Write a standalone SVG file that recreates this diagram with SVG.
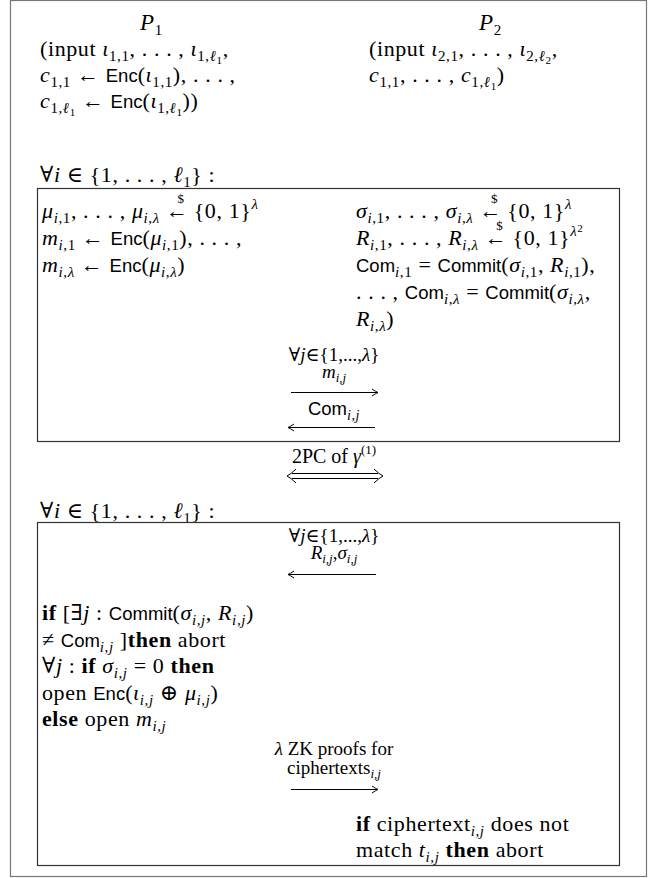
<svg xmlns="http://www.w3.org/2000/svg" width="655" height="878" viewBox="0 0 655 878">
<style>
.m{font-family:"Liberation Serif","DejaVu Serif",serif;font-size:22px;fill:#000;letter-spacing:0.6px}
.it{font-style:italic}
.sf{font-family:"Liberation Sans","DejaVu Sans",sans-serif;font-size:18.5px;letter-spacing:0px}
.b{font-weight:bold}
.sb{font-size:15px}
.ss{font-size:11px}
.sm{font-size:19px;letter-spacing:0px}
.tn{font-size:13px}
.box{fill:none;stroke:#333;stroke-width:1.2}
.outer{fill:none;stroke:#777;stroke-width:1.2}
.ar{fill:none;stroke:#000;stroke-width:1}
</style>
<defs>
<marker id="ah" markerUnits="userSpaceOnUse" markerWidth="12" markerHeight="12" viewBox="-8 -6 10 12" refX="0" refY="0" orient="auto">
<path d="M-6,-3.5 Q-2,-0.8 0,0 Q-2,0.8 -6,3.5" fill="none" stroke="#000" stroke-width="1"/>
</marker>
</defs>
<rect id="outer" class="outer" x="10.5" y="0.5" width="636" height="876"/>
<g id="p1">
<text x="140" y="30" class="m" style="font-size:23px"><tspan class="it">P</tspan><tspan class="sb" dy="5">1</tspan></text>
<text x="40" y="56" class="m">(input <tspan class="it">ι</tspan><tspan class="sb" dy="5">1,1</tspan><tspan dy="-5">, . . . , </tspan><tspan class="it">ι</tspan><tspan class="sb" dy="5">1,</tspan><tspan class="sb it">ℓ</tspan><tspan class="ss" dy="3">1</tspan><tspan dy="-8">,</tspan></text>
<text x="40" y="82" class="m"><tspan class="it">c</tspan><tspan class="sb" dy="5">1,1</tspan><tspan dy="-5"> ← </tspan><tspan class="sf">Enc</tspan>(<tspan class="it">ι</tspan><tspan class="sb" dy="5">1,1</tspan><tspan dy="-5">), . . . ,</tspan></text>
<text x="40" y="108" class="m"><tspan class="it">c</tspan><tspan class="sb" dy="5">1,</tspan><tspan class="sb it">ℓ</tspan><tspan class="ss" dy="3">1</tspan><tspan dy="-8"> ← </tspan><tspan class="sf">Enc</tspan>(<tspan class="it">ι</tspan><tspan class="sb" dy="5">1,</tspan><tspan class="sb it">ℓ</tspan><tspan class="ss" dy="3">1</tspan><tspan dy="-8">))</tspan></text>
</g>
<g id="p2">
<text x="479" y="30" class="m" style="font-size:23px"><tspan class="it">P</tspan><tspan class="sb" dy="5">2</tspan></text>
<text x="369" y="56" class="m">(input <tspan class="it">ι</tspan><tspan class="sb" dy="5">2,1</tspan><tspan dy="-5">, . . . , </tspan><tspan class="it">ι</tspan><tspan class="sb" dy="5">2,</tspan><tspan class="sb it">ℓ</tspan><tspan class="ss" dy="3">2</tspan><tspan dy="-8">,</tspan></text>
<text x="369" y="82" class="m"><tspan class="it">c</tspan><tspan class="sb" dy="5">1,1</tspan><tspan dy="-5">, . . . , </tspan><tspan class="it">c</tspan><tspan class="sb" dy="5">1,</tspan><tspan class="sb it">ℓ</tspan><tspan class="ss" dy="3">1</tspan><tspan dy="-8">)</tspan></text>
</g>
<g id="loop1">
<text x="40" y="182" class="m">∀<tspan class="it">i</tspan> ∈ {1, . . . , <tspan class="it">ℓ</tspan><tspan class="sb" dy="5">1</tspan><tspan dy="-5">} :</tspan></text>
<rect class="box" x="37.5" y="188.5" width="582" height="253"/>
<text x="42" y="218" class="m"><tspan class="it">μ</tspan><tspan class="sb it" dy="5">i</tspan><tspan class="sb">,1</tspan><tspan dy="-5">, . . . , </tspan><tspan class="it">μ</tspan><tspan class="sb it" dy="5">i</tspan><tspan class="sb">,</tspan><tspan class="sb it">λ</tspan><tspan dy="-5"> ←</tspan><tspan class="tn" dx="-11" dy="-15">$</tspan><tspan dy="15" dx="3"> {0, 1}</tspan><tspan class="sb it" dy="-9">λ</tspan></text>
<text x="42" y="245" class="m"><tspan class="it">m</tspan><tspan class="sb it" dy="5">i</tspan><tspan class="sb">,1</tspan><tspan dy="-5"> ← </tspan><tspan class="sf">Enc</tspan>(<tspan class="it">μ</tspan><tspan class="sb it" dy="5">i</tspan><tspan class="sb">,1</tspan><tspan dy="-5">), . . . ,</tspan></text>
<text x="42" y="272" class="m"><tspan class="it">m</tspan><tspan class="sb it" dy="5">i</tspan><tspan class="sb">,</tspan><tspan class="sb it">λ</tspan><tspan dy="-5"> ← </tspan><tspan class="sf">Enc</tspan>(<tspan class="it">μ</tspan><tspan class="sb it" dy="5">i</tspan><tspan class="sb">,</tspan><tspan class="sb it">λ</tspan><tspan dy="-5">)</tspan></text>
<text x="356" y="218" class="m"><tspan class="it">σ</tspan><tspan class="sb it" dy="5">i</tspan><tspan class="sb">,1</tspan><tspan dy="-5">, . . . , </tspan><tspan class="it">σ</tspan><tspan class="sb it" dy="5">i</tspan><tspan class="sb">,</tspan><tspan class="sb it">λ</tspan><tspan dy="-5"> ←</tspan><tspan class="tn" dx="-11" dy="-15">$</tspan><tspan dy="15" dx="3"> {0, 1}</tspan><tspan class="sb it" dy="-9">λ</tspan></text>
<text x="356" y="245" class="m"><tspan class="it">R</tspan><tspan class="sb it" dy="5">i</tspan><tspan class="sb">,1</tspan><tspan dy="-5">, . . . , </tspan><tspan class="it">R</tspan><tspan class="sb it" dy="5">i</tspan><tspan class="sb">,</tspan><tspan class="sb it">λ</tspan><tspan dy="-5"> ←</tspan><tspan class="tn" dx="-11" dy="-15">$</tspan><tspan dy="15" dx="3"> {0, 1}</tspan><tspan class="sb it" dy="-9">λ</tspan><tspan class="ss" dy="-4">2</tspan></text>
<text x="356" y="272" class="m"><tspan class="sf">Com</tspan><tspan class="sb it" dy="5">i</tspan><tspan class="sb">,1</tspan><tspan dy="-5"> = </tspan><tspan class="sf">Commit</tspan>(<tspan class="it">σ</tspan><tspan class="sb it" dy="5">i</tspan><tspan class="sb">,1</tspan><tspan dy="-5">, </tspan><tspan class="it">R</tspan><tspan class="sb it" dy="5">i</tspan><tspan class="sb">,1</tspan><tspan dy="-5">),</tspan></text>
<text x="356" y="299" class="m">. . . , <tspan class="sf">Com</tspan><tspan class="sb it" dy="5">i</tspan><tspan class="sb">,</tspan><tspan class="sb it">λ</tspan><tspan dy="-5"> = </tspan><tspan class="sf">Commit</tspan>(<tspan class="it">σ</tspan><tspan class="sb it" dy="5">i</tspan><tspan class="sb">,</tspan><tspan class="sb it">λ</tspan><tspan dy="-5">,</tspan></text>
<text x="356" y="326" class="m"><tspan class="it">R</tspan><tspan class="sb it" dy="5">i</tspan><tspan class="sb">,</tspan><tspan class="sb it">λ</tspan><tspan dy="-5">)</tspan></text>
<text x="334" y="361" class="m sm" text-anchor="middle">∀<tspan class="it">j</tspan>∈{1,...,<tspan class="it">λ</tspan>}</text>
<text x="334" y="378" class="m sm" text-anchor="middle"><tspan class="it">m</tspan><tspan class="tn it" dy="4">i,j</tspan></text>
<text x="334" y="415" class="m" text-anchor="middle" style="font-size:20px"><tspan class="sf" style="font-size:18.5px">Com</tspan><tspan class="sb it" dy="5" style="font-size:14px">i,j</tspan></text>
</g>
<g id="loop2">
<text x="40" y="518" class="m">∀<tspan class="it">i</tspan> ∈ {1, . . . , <tspan class="it">ℓ</tspan><tspan class="sb" dy="5">1</tspan><tspan dy="-5">} :</tspan></text>
<rect class="box" x="37.5" y="522.5" width="582" height="343"/>
<text x="334" y="542" class="m sm" text-anchor="middle">∀<tspan class="it">j</tspan>∈{1,...,<tspan class="it">λ</tspan>}</text>
<text x="334" y="559" class="m sm" text-anchor="middle"><tspan class="it">R</tspan><tspan class="tn it" dy="4">i,j</tspan><tspan dy="-4">,</tspan><tspan class="it">σ</tspan><tspan class="tn it" dy="4">i,j</tspan></text>
<text x="42" y="620" class="m"><tspan class="b">if</tspan> [∃<tspan class="it">j</tspan> : <tspan class="sf">Commit</tspan>(<tspan class="it">σ</tspan><tspan class="sb it" dy="5">i,j</tspan><tspan dy="-5">, </tspan><tspan class="it">R</tspan><tspan class="sb it" dy="5">i,j</tspan><tspan dy="-5">)</tspan></text>
<text x="42" y="647" class="m">≠ <tspan class="sf">Com</tspan><tspan class="sb it" dy="5">i,j</tspan><tspan dy="-5"> ]</tspan><tspan class="b">then</tspan> abort</text>
<text x="42" y="673" class="m">∀<tspan class="it">j</tspan> : <tspan class="b">if</tspan> <tspan class="it">σ</tspan><tspan class="sb it" dy="5">i,j</tspan><tspan dy="-5"> = 0 </tspan><tspan class="b">then</tspan></text>
<text x="42" y="700" class="m">open <tspan class="sf">Enc</tspan>(<tspan class="it">ι</tspan><tspan class="sb it" dy="5">i,j</tspan><tspan dy="-5"> ⊕ </tspan><tspan class="it">μ</tspan><tspan class="sb it" dy="5">i,j</tspan><tspan dy="-5">)</tspan></text>
<text x="42" y="726" class="m"><tspan class="b">else</tspan> open <tspan class="it">m</tspan><tspan class="sb it" dy="5">i,j</tspan></text>
<text x="334" y="755" class="m sm" text-anchor="middle"><tspan class="it">λ</tspan> ZK proofs for</text>
<text x="334" y="774" class="m sm" text-anchor="middle">ciphertexts<tspan class="tn it" dy="4">i,j</tspan></text>
<text x="356" y="831" class="m"><tspan class="b">if</tspan> ciphertext<tspan class="sb it" dy="5">i,j</tspan><tspan dy="-5"> does not</tspan></text>
<text x="356" y="857" class="m">match <tspan class="it">t</tspan><tspan class="sb it" dy="5">i,j</tspan><tspan dy="-5"> </tspan><tspan class="b">then</tspan> abort</text>
</g>
<g id="connectors">
<line class="ar" x1="291" y1="392.5" x2="378" y2="392.5" marker-end="url(#ah)"/>
<line class="ar" x1="375" y1="427.5" x2="288" y2="427.5" marker-end="url(#ah)"/>
<text x="334" y="463" class="m" text-anchor="middle" style="font-size:20px;letter-spacing:0px">2PC of <tspan class="it">γ</tspan><tspan class="tn" dy="-9">(1)</tspan></text>
<g class="ar">
<line x1="292" y1="473.5" x2="378" y2="473.5"/>
<line x1="292" y1="478.5" x2="378" y2="478.5"/>
<path d="M296,469 Q291,474 287,476 Q291,478 296,483"/>
<path d="M374,469 Q379,474 383,476 Q379,478 374,483"/>
</g>
<line class="ar" x1="376" y1="574.5" x2="288" y2="574.5" marker-end="url(#ah)"/>
<line class="ar" x1="291" y1="789.5" x2="378" y2="789.5" marker-end="url(#ah)"/>
</g>
</svg>
